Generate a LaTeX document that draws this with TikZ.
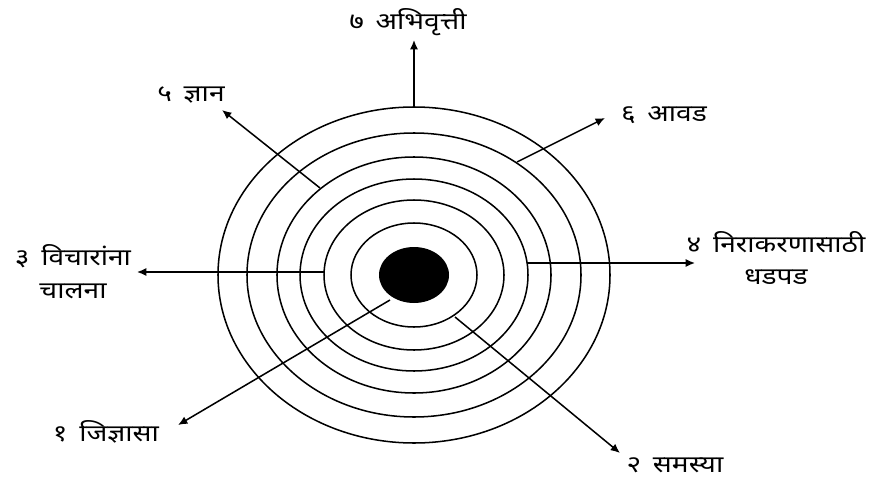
\documentclass[tikz,border=0pt]{standalone}
\usepackage{fontspec}
\newfontfamily\deva[Script=Devanagari,FakeStretch=1.2]{Noto Sans}
\usetikzlibrary{arrows.meta}

\begin{document}
\begin{tikzpicture}[x=0.03cm,y=-0.03cm]

	% Estilo
	\tikzset{
		anillo/.style={
			line width=1.3pt
		},
		flecha/.style={
			line width=1.3pt,
			-{Latex[length=8pt,width=7pt]}
		},
		etiqueta/.style={
			font=\deva\fontsize{20}{28}\selectfont,
			align=center,
			inner sep=1pt
		}
	}

	\useasboundingbox (0,0) rectangle (872,479);

	% Anillos
	\draw[anillo] (414,275) ellipse [x radius=196, y radius=168];
	\draw[anillo] (414,275) ellipse [x radius=167, y radius=142];
	\draw[anillo] (414,275) ellipse [x radius=137, y radius=118];
	\draw[anillo] (414,275) ellipse [x radius=114, y radius=96];
	\draw[anillo] (414,275) ellipse [x radius=90, y radius=75];
	\draw[anillo] (414,275) ellipse [x radius=63, y radius=52];
	\fill (414,275) ellipse [x radius=35, y radius=28];

	% Puntos de salida y puntas
	\coordinate (s7) at (414,107);   \coordinate (t7) at (414,40);
	\coordinate (s5) at (320,188);   \coordinate (t5) at (222,110);
	\coordinate (s6) at (517,162);   \coordinate (t6) at (605,118);
	\coordinate (s3) at (324,272);   \coordinate (t3) at (137,272);
	\coordinate (s4) at (527,263);   \coordinate (t4) at (695,263);
	\coordinate (s1) at (390,300);   \coordinate (t1) at (178,425);
	\coordinate (s2) at (455,317);   \coordinate (t2) at (620,453);

	% Etiquetas
	\node[etiqueta] (abhivrutti) at (408,22) {७\enspace अभिवृत्ती};
	\node[etiqueta] (dnyan) at (191,95) {५\enspace ज्ञान};
	\node[etiqueta] (aavad) at (664,115) {६\enspace आवड};
	\node[etiqueta] (vichar) at (73,272) {३\enspace विचारांना\\चालना};
	\node[etiqueta] (nirakaran) at (776,258) {४\enspace निराकरणासाठी\\धडपड};
	\node[etiqueta] (jidnyasa) at (106,432) {१\enspace जिज्ञासा};
	\node[etiqueta] (samasya) at (675,465) {२\enspace समस्या};

	% Flechas
	\draw[flecha] (s7) -- (t7);
	\draw[flecha] (s5) -- (t5);
	\draw[flecha] (s6) -- (t6);
	\draw[flecha] (s3) -- (t3);
	\draw[flecha] (s4) -- (t4);
	\draw[flecha] (s1) -- (t1);
	\draw[flecha] (s2) -- (t2);

\end{tikzpicture}
\end{document}
